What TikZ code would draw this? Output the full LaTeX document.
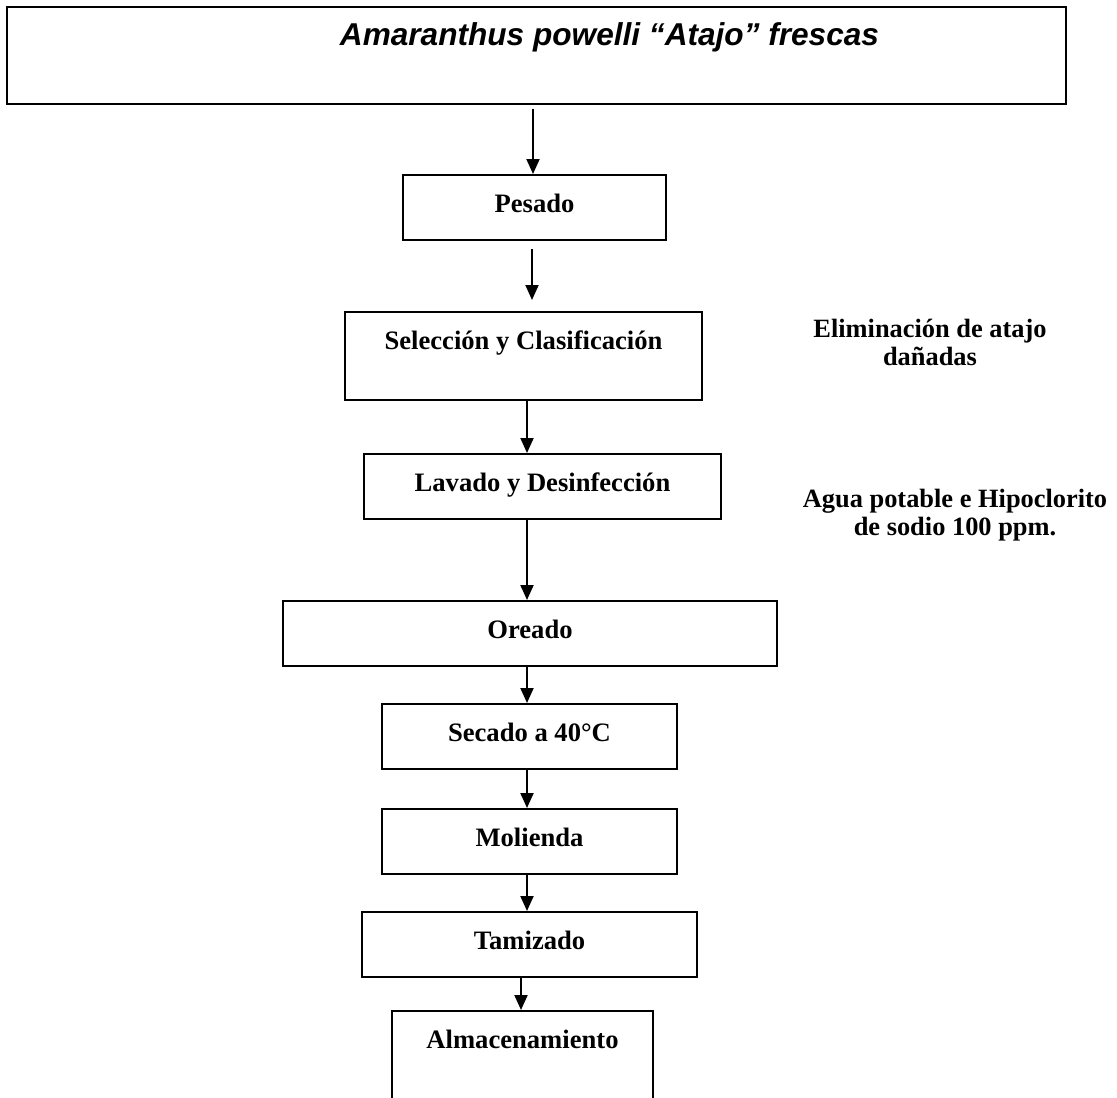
\documentclass[tikz,border=0pt]{standalone}
\usepackage{fontspec}
\setmainfont{Liberation Serif}
\setsansfont{Liberation Sans}
\usetikzlibrary{arrows.meta,positioning}

\begin{document}
\begin{tikzpicture}[x=0.5pt,y=-0.5pt,
   paso/.style={draw,line width=1pt,inner ysep=0pt,text height=18.5pt,text depth=14pt,font=\fontsize{13.3}{14}\selectfont\bfseries},
   nota/.style={align=center,font=\fontsize{13.2}{14}\selectfont\bfseries},
   flecha/.style={-{Triangle[length=7.5pt,width=6.5pt]},line width=1pt}]
  \useasboundingbox (0,0) rectangle (1117,1097);
  \clip (0,0) rectangle (1117,1097);
  % materia prima
  \node[draw,line width=1pt,minimum width=529.5pt,minimum height=48.5pt,anchor=north] (fresca) at (536.5,6) {};
  \node[font=\fontsize{15.8}{18}\selectfont\sffamily\bfseries\itshape,anchor=base] (especie) at (609.5,46) {Amaranthus powelli “Atajo” frescas};
  % etapas del proceso
  \node[paso,minimum width=131.5pt,below=34.5pt of fresca,xshift=-1pt] (pesado) {Pesado};
  \node[paso,minimum width=178.5pt,text depth=25.5pt,below=35pt of pesado,xshift=-5.5pt] (seleccion) {Selección y Clasificación};
  \node[paso,minimum width=178.5pt,below=26pt of seleccion,xshift=9.5pt] (lavado) {Lavado y Desinfección};
  \node[paso,minimum width=247pt,below=40pt of lavado,xshift=-6.25pt] (oreado) {Oreado};
  \node[paso,minimum width=147.5pt,below=18pt of oreado,xshift=-.25pt] (secado) {Secado a 40°C};
  \node[paso,minimum width=147.5pt,below=19pt of secado] (molienda) {Molienda};
  \node[paso,minimum width=167.5pt,below=18pt of molienda] (tamizado) {Tamizado};
  \node[paso,minimum width=130.5pt,text depth=60pt,below=16pt of tamizado,xshift=-3.5pt] (almacen) {Almacenamiento};
  % observaciones
  \node[nota,anchor=base] (descarte) at (930,365) {Eliminación de atajo\\dañadas};
  \node[nota,anchor=base] (solucion) at (955,535) {Agua potable e Hipoclorito\\de sodio 100 ppm.};
  % flechas
  \coordinate (ejeA) at (533,0);
  \coordinate (ejeB) at (532,0);
  \coordinate (ejeC) at (527,0);
  \coordinate (ejeD) at (521,0);
  \draw[flecha,shorten <=2pt] (fresca.south -| ejeA) -- (pesado.north -| ejeA);
  \draw[flecha,shorten <=4pt,shorten >=5.5pt] (pesado.south -| ejeB) -- (seleccion.north -| ejeB);
  \draw[flecha] (seleccion.south -| ejeC) -- (lavado.north -| ejeC);
  \draw[flecha] (lavado.south -| ejeC) -- (oreado.north -| ejeC);
  \draw[flecha] (oreado.south -| ejeC) -- (secado.north -| ejeC);
  \draw[flecha] (secado.south -| ejeC) -- (molienda.north -| ejeC);
  \draw[flecha] (molienda.south -| ejeC) -- (tamizado.north -| ejeC);
  \draw[flecha] (tamizado.south -| ejeD) -- (almacen.north -| ejeD);
\end{tikzpicture}
\end{document}
